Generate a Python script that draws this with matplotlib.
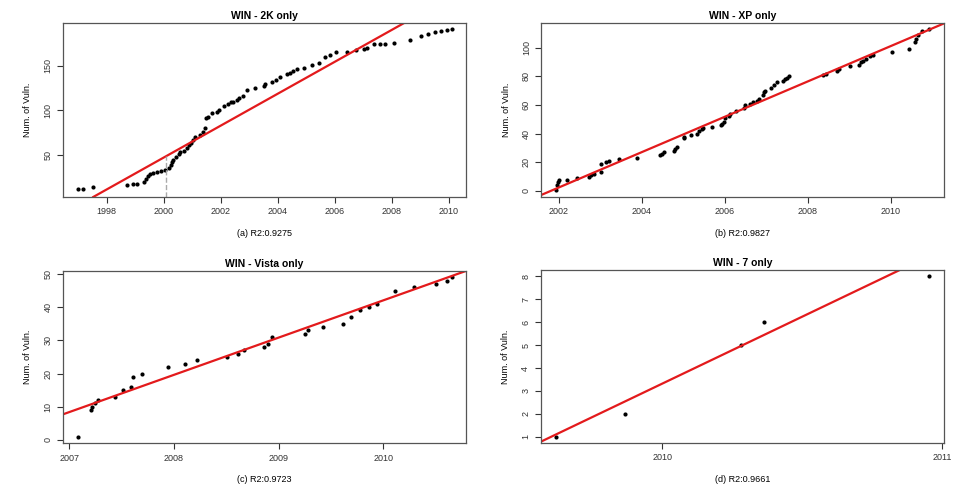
import matplotlib.pyplot as plt
import numpy as np

plt.rcParams['font.family'] = ['Liberation Sans', 'DejaVu Sans']

# WIN - 2K only
yr_2k = [1997.01, 1997.18, 1997.53, 1998.72, 1998.93, 1999.07, 1999.30, 1999.37, 1999.44,
         1999.53, 1999.62, 1999.76, 1999.90, 2000.05, 2000.17, 2000.25, 2000.30, 2000.34,
         2000.43, 2000.52, 2000.58, 2000.72, 2000.81, 2000.89, 2000.96, 2001.01, 2001.08,
         2001.28, 2001.39, 2001.45, 2001.48, 2001.57, 2001.69, 2001.86, 2001.94, 2002.11,
         2002.27, 2002.36, 2002.44, 2002.56, 2002.64, 2002.79, 2002.91, 2003.20, 2003.50,
         2003.56, 2003.79, 2003.93, 2004.08, 2004.34, 2004.43, 2004.53, 2004.69, 2004.92,
         2005.21, 2005.46, 2005.66, 2005.84, 2006.05, 2006.42, 2006.75, 2007.01, 2007.13,
         2007.38, 2007.59, 2007.77, 2008.09, 2008.64, 2009.03, 2009.28, 2009.52, 2009.73,
         2009.93, 2010.10]
n_2k = [12, 12, 14, 16, 17, 18, 20, 23, 26,
        29, 30, 31, 32, 33, 35, 39, 42, 45,
        48, 51, 53, 55, 58, 61, 64, 67, 70,
        72, 76, 80, 91, 93, 97, 98, 101, 105,
        107, 109, 110, 112, 114, 116, 123, 125, 127,
        130, 132, 134, 137, 141, 142, 144, 146, 147,
        151, 153, 160, 162, 165, 166, 168, 169, 170,
        174, 175, 175, 176, 179, 183, 186, 188, 189,
        190, 191]

# WIN - XP only
yr_xp = [2001.93, 2001.97, 2001.99, 2002.01, 2002.21, 2002.45, 2002.74, 2002.78, 2002.85,
         2003.01, 2003.03, 2003.15, 2003.20, 2003.45, 2003.88, 2004.43, 2004.48, 2004.53,
         2004.77, 2004.81, 2004.86, 2005.02, 2005.03, 2005.19, 2005.34, 2005.39, 2005.44,
         2005.48, 2005.69, 2005.90, 2005.94, 2005.98, 2006.01, 2006.10, 2006.13, 2006.26,
         2006.46, 2006.49, 2006.61, 2006.69, 2006.77, 2006.82, 2006.92, 2006.95, 2006.98,
         2007.11, 2007.19, 2007.26, 2007.41, 2007.45, 2007.49, 2007.54, 2008.36, 2008.45,
         2008.71, 2008.75, 2009.02, 2009.23, 2009.28, 2009.34, 2009.40, 2009.50, 2009.58,
         2010.04, 2010.44, 2010.57, 2010.61, 2010.66, 2010.74, 2010.92]
n_xp = [1, 4, 6, 8, 8, 9, 10, 11, 12,
        13, 19, 20, 21, 22, 23, 25, 26, 27,
        28, 29, 31, 37, 38, 39, 40, 42, 43,
        44, 45, 46, 47, 48, 51, 52, 54, 56,
        58, 60, 61, 62, 63, 64, 67, 69, 70,
        72, 74, 76, 77, 78, 79, 80, 81, 82,
        84, 85, 87, 88, 90, 91, 92, 94, 95,
        97, 99, 104, 106, 109, 112, 113]

# WIN - Vista only
yr_vista = [2007.08, 2007.21, 2007.22, 2007.25, 2007.27, 2007.44, 2007.51, 2007.59, 2007.61,
            2007.69, 2007.94, 2008.11, 2008.22, 2008.51, 2008.61, 2008.67, 2008.86, 2008.90,
            2008.94, 2009.25, 2009.28, 2009.42, 2009.61, 2009.69, 2009.78, 2009.86, 2009.94,
            2010.11, 2010.29, 2010.50, 2010.61, 2010.66]
n_vista = [1, 9, 10, 11, 12, 13, 15, 16, 19,
           20, 22, 23, 24, 25, 26, 27, 28, 29,
           31, 32, 33, 34, 35, 37, 39, 40, 41,
           45, 46, 47, 48, 49]

# WIN - 7 only
yr_7 = [2009.62, 2009.866, 2010.282, 2010.363, 2010.952]
n_7 = [1, 2, 5, 6, 8]

# fitted lines: (anchor year, anchor value, slope per year)
fit_2k = (1997.53, 3.0, 17.89)
fit_xp = (2002.0, 2.4, 12.35)
fit_vista = (2007.0, 8.4, 11.22)
fit_7 = (2009.566, 0.78, 5.85)

panels = [
    ("WIN - 2K only", "(a) R2:0.9275", yr_2k, n_2k, fit_2k,
     [0.0645, 0.5947, 0.4125, 0.358], (1996.47, 2010.6), (3, 198),
     [1998, 2000, 2002, 2004, 2006, 2008, 2010], [50, 100, 150]),
    ("WIN - XP only", "(b) R2:0.9827", yr_xp, n_xp, fit_xp,
     [0.554, 0.5947, 0.4122, 0.358], (2001.58, 2011.28), (-4.2, 117.3),
     [2002, 2004, 2006, 2008, 2010], [0, 20, 40, 60, 80, 100]),
    ("WIN - Vista only", "(c) R2:0.9723", yr_vista, n_vista, fit_vista,
     [0.0645, 0.0879, 0.4125, 0.3545], (2006.94, 2010.79), (-1.0, 50.9),
     [2007, 2008, 2009, 2010], [0, 10, 20, 30, 40, 50]),
    ("WIN - 7 only", "(d) R2:0.9661", yr_7, n_7, fit_7,
     [0.5534, 0.0891, 0.4128, 0.3553], (2009.566, 2011.006), (0.74, 8.28),
     [2010, 2011], [1, 2, 3, 4, 5, 6, 7, 8]),
]

fig = plt.figure(figsize=(9.77, 4.86), dpi=100)

for title, xlab, xs, ys, fit, pos, xl, yl, xt, yt in panels:
    ax = fig.add_axes(pos)
    ax.plot(xs, ys, 'o', color='black', markersize=3.0, markeredgewidth=0)
    x0, y0, k = fit
    ax.axline((x0, y0), slope=k, color='#e31a1c', linewidth=1.6)
    ax.set_xlim(xl)
    ax.set_ylim(yl)
    ax.set_xticks(xt)
    ax.set_xticklabels([str(t) for t in xt])
    ax.set_yticks(yt)
    ax.set_yticklabels([str(t) for t in yt], rotation=90, va='center')
    ax.tick_params(direction='out', length=4, width=0.8, labelsize=6.5, colors='#333333')
    for s in ax.spines.values():
        s.set_color('#555555')
        s.set_linewidth(0.9)
    ax.set_title(title, fontsize=7.5, fontweight='bold', pad=3)
    ax.set_ylabel("Num. of Vuln.", fontsize=6.5, labelpad=8)
    ax.set_xlabel(xlab, fontsize=6.5, labelpad=9)

# dashed marker at 2000 in the 2K panel
ax1 = fig.axes[0]
ax1.plot([2000.09, 2000.09], [3, 49], linestyle='--', color='#aaaaaa', linewidth=1.0)

fig.savefig("out.png", dpi=100)
